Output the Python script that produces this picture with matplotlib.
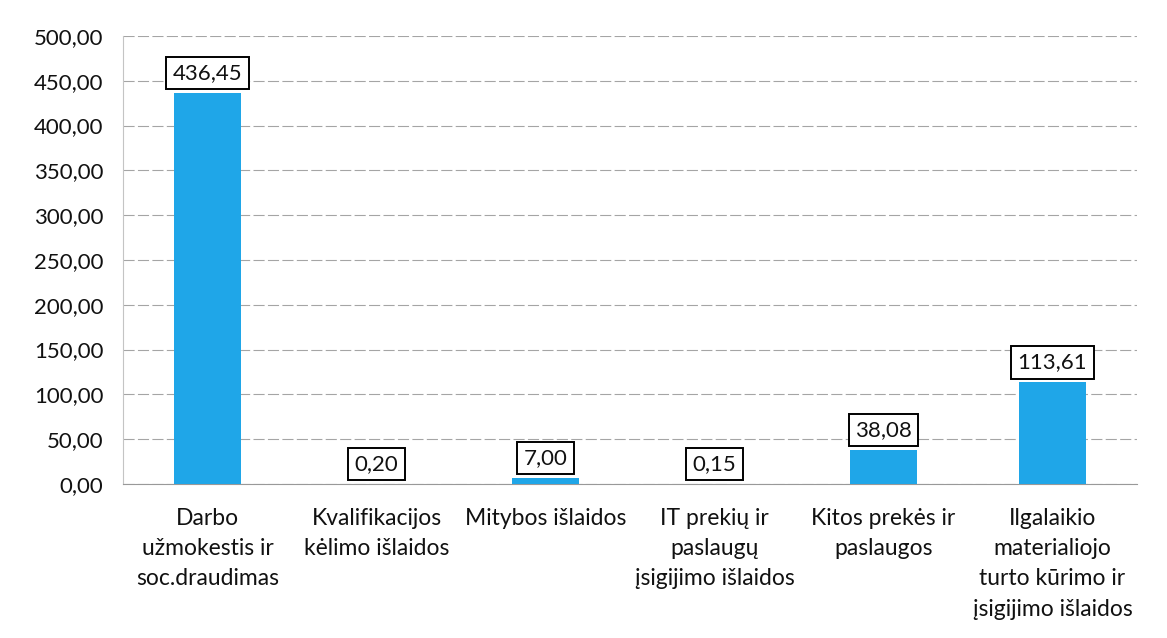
import matplotlib.pyplot as plt
from matplotlib.ticker import FuncFormatter

# duomenys
categories = ['Darbo\nužmokestis ir\nsoc.draudimas',
              'Kvalifikacijos\nkėlimo išlaidos',
              'Mitybos išlaidos',
              'IT prekių ir\npaslaugų\nįsigijimo išlaidos',
              'Kitos prekės ir\npaslaugos',
              'Ilgalaikio\nmaterialiojo\nturto kūrimo ir\nįsigijimo išlaidos']
values = [436.45, 0.20, 7.00, 0.15, 38.08, 113.61]
labels = ['436,45', '0,20', '7,00', '0,15', '38,08', '113,61']
yticks = [0, 50, 100, 150, 200, 250, 300, 350, 400, 450, 500]

plt.rcParams['font.family'] = ['Lato', 'DejaVu Sans']

fig = plt.figure(figsize=(11.67, 6.38), dpi=100)
ax = fig.add_axes([0.1054, 0.2414, 0.8689, 0.7022])

x = list(range(len(categories)))
ax.bar(x, values, width=0.4, color='#1fa6e8', zorder=3)

for xi, v, lab in zip(x, values, labels):
    ax.annotate(lab, (xi, v), xytext=(0, 7), textcoords='offset points',
                ha='center', va='bottom', fontsize=16, color='#111111',
                bbox=dict(boxstyle='square,pad=0.28', fc='white', ec='black', lw=1.4),
                zorder=4)

ax.set_xlim(-0.5, len(categories) - 0.5)
ax.set_ylim(0, 500)
ax.set_yticks(yticks)
ax.yaxis.set_major_formatter(FuncFormatter(lambda v, p: f'{v:.2f}'.replace('.', ',')))
ax.set_xticks(x)
ax.set_xticklabels(categories, fontsize=16.5, color='#111111', linespacing=1.55)
ax.tick_params(axis='y', labelsize=16, labelcolor='#111111', length=0, pad=14)
ax.tick_params(axis='x', length=0, pad=17)

ax.grid(axis='y', color='#a5a5a5', linestyle=(0, (10, 3)), linewidth=0.8, zorder=0)
for s in ['top', 'right']:
    ax.spines[s].set_visible(False)
ax.spines['left'].set_color('#c4c4c4')
ax.spines['bottom'].set_color('#999999')

fig.savefig('out.png', dpi=100)
